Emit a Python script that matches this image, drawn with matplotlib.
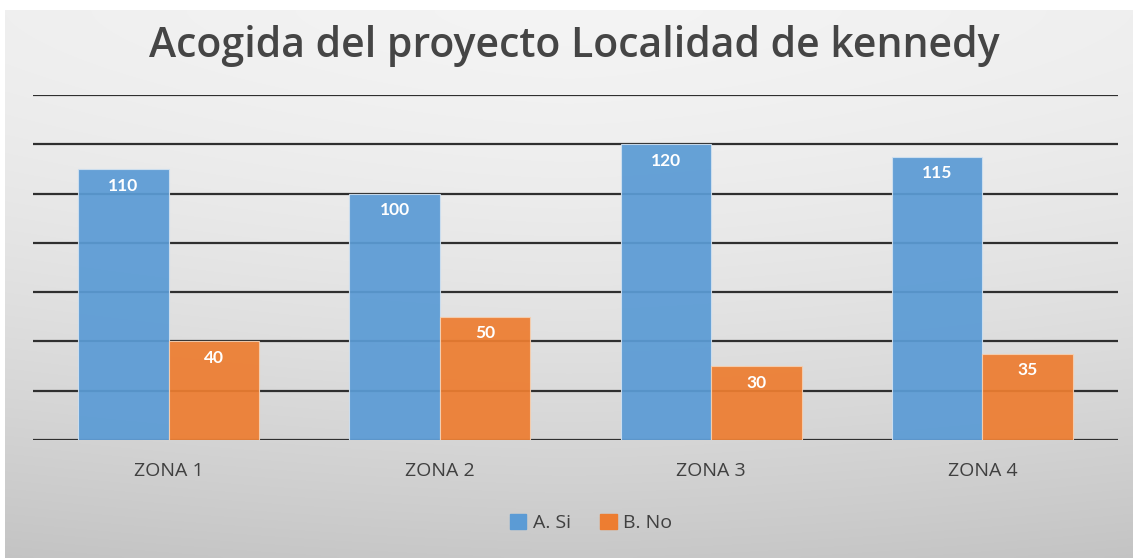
import matplotlib
matplotlib.use("Agg")
import matplotlib.pyplot as plt
import numpy as np
from matplotlib.patches import Patch

categories = ["ZONA 1", "ZONA 2", "ZONA 3", "ZONA 4"]
series_names = ["A. Si", "B. No"]
si_values = [110, 100, 120, 115]
no_values = [40, 50, 30, 35]
title = "Acogida del proyecto Localidad de kennedy"

W, H = 1133, 558
fig = plt.figure(figsize=(W / 100, H / 100), dpi=100)
fig.patch.set_facecolor("white")

# background gradient panel
bg = fig.add_axes([5 / W, 0, 1 - 5 / W, 1 - 10 / H])
bg.set_axis_off()
yy, xx = np.mgrid[0:1:200j, 0:1:400j]
val = 0.955 - 0.17 * (yy ** 1.6) - 0.05 * np.abs(xx - 0.5) ** 1.5
img = np.dstack([val, val, val])
bg.imshow(img, aspect="auto", extent=[0, 1, 0, 1], origin="upper", interpolation="bilinear")
bg.set_xlim(0, 1)
bg.set_ylim(0, 1)

ax = fig.add_axes([33 / W, 1 - 440 / H, (1118 - 33) / W, (440 - 95) / H])
ax.patch.set_alpha(0)
x = np.arange(len(categories))
bw = 1 / 3
b1 = ax.bar(x - bw / 2, si_values, bw, color="#5B9BD5", alpha=0.93, zorder=3,
            edgecolor="#cfe0f0", linewidth=0.8, label=series_names[0])
b2 = ax.bar(x + bw / 2, no_values, bw, color="#ED7D31", alpha=0.93, zorder=3,
            edgecolor="#f5cfb0", linewidth=0.8, label=series_names[1])

for bars, vals in ((b1, si_values), (b2, no_values)):
    for r, v in zip(bars, vals):
        ax.annotate(str(v), (r.get_x() + r.get_width() / 2, v), xytext=(0, -12),
                    textcoords="offset points", ha="center", va="center",
                    color="white", fontsize=12.5, fontweight="bold", family="Lato", zorder=5)

ax.set_xlim(-0.5, len(categories) - 0.5)
ax.set_ylim(0, 140)
ax.set_yticks(np.arange(0, 141, 20))
ax.yaxis.grid(True, color="#2f2f2f", linewidth=1.6, zorder=0)
ax.set_axisbelow(True)
ax.tick_params(axis="y", left=False, labelleft=False)
ax.tick_params(axis="x", bottom=False, pad=12)
ax.set_xticks(x)
ax.set_xticklabels(categories, fontsize=14, color="#404040", family="Open Sans")
for s in ax.spines.values():
    s.set_visible(False)

fig.text(574 / W, 1 - 46 / H, title, ha="center", va="center", fontsize=29.5,
         fontweight="semibold", color="#454545", family="Open Sans")

handles = [Patch(color="#5B9BD5", label=series_names[0]),
           Patch(color="#ED7D31", label=series_names[1])]
fig.legend(handles=handles, loc="center", bbox_to_anchor=(591 / W, 1 - 523 / H), ncol=2,
           frameon=False, handlelength=0.85, handleheight=0.85,
           handletextpad=0.35, columnspacing=1.5,
           prop={"family": "Open Sans", "size": 14})
for t in fig.legends[0].get_texts():
    t.set_color("#404040")

fig.savefig("out.png", dpi=100)
